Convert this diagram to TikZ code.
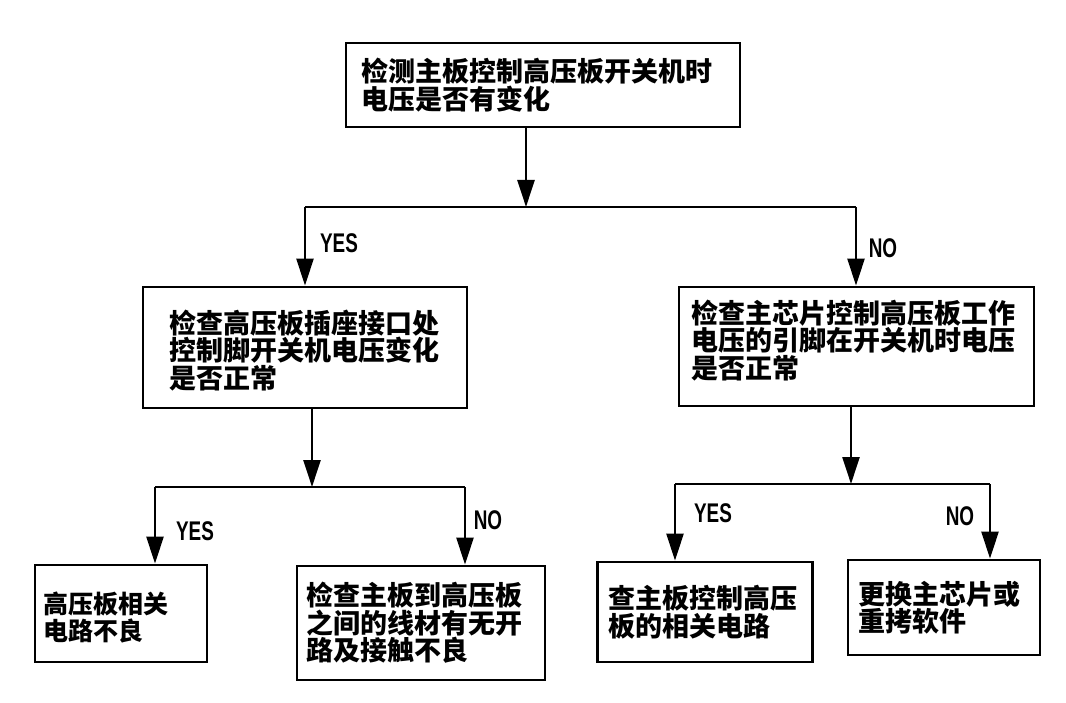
\documentclass[tikz,border=0pt]{standalone}
\usepackage{fontspec}
\newfontfamily\cjk{Noto Sans CJK SC}
\newfontfamily\lab{Liberation Sans}[FakeStretch=0.7]
\usetikzlibrary{arrows.meta}
\tikzset{
  box/.style={draw, line width=2.8pt, inner sep=0pt},
  txt/.style={font=\cjk\bfseries\fontsize{27}{27.5}\selectfont, align=left, inner sep=0pt, anchor=west},
  conn/.style={line width=2.4pt},
  arr/.style={conn, -{Triangle[length=27pt,width=17pt]}},
  yn/.style={font=\lab\bfseries\fontsize{27}{27}\selectfont, inner sep=0pt}
}
\begin{document}
\begin{tikzpicture}[x=1pt,y=-1pt]
\useasboundingbox[fill=white] (0,0) rectangle (1066,703);
% boxes
\node[box, minimum width=394pt, minimum height=84pt] (top) at (543,85) {};
\node[txt] (ttop) at ([xshift=17pt]top.west) {检测主板控制高压板开关机时\\电压是否有变化};
\node[box, minimum width=324pt, minimum height=121pt] (ml) at (305,347.5) {};
\node[txt] (tml) at ([xshift=28pt,yshift=-3pt]ml.west) {检查高压板插座接口处\\控制脚开关机电压变化\\是否正常};
\node[box, minimum width=355pt, minimum height=119pt] (mr) at (856.5,346.5) {};
\node[txt] (tmr) at ([xshift=14pt,yshift=6pt]mr.west) {检查主芯片控制高压板工作\\电压的引脚在开关机时电压\\是否正常};
\node[box, minimum width=172pt, minimum height=97pt] (b1) at (121,613.5) {};
\node[txt, font=\cjk\bfseries\fontsize{25}{27}\selectfont] (tb1) at ([xshift=10pt,yshift=-4pt]b1.west) {高压板相关\\电路不良};
\node[box, minimum width=248pt, minimum height=114pt] (b2) at (421,623) {};
\node[txt] (tb2) at ([xshift=11pt]b2.west) {检查主板到高压板\\之间的线材有无开\\路及接触不良};
\node[box, minimum width=215pt, minimum height=100pt] (b3) at (705,612) {};
\node[txt] (tb3) at ([xshift=12pt]b3.west) {查主板控制高压\\板的相关电路};
\node[box, minimum width=192pt, minimum height=95pt] (b4) at (944,607.5) {};
\node[txt] (tb4) at ([xshift=12pt]b4.west) {更换主芯片或\\重拷软件};
% junctions
\coordinate (j1) at (526,207);
\coordinate (j1l) at (305,207);
\coordinate (j1r) at (856,207);
\coordinate (j2) at (312,487);
\coordinate (j2l) at (155,487);
\coordinate (j2r) at (465,487);
\coordinate (j3) at (851,484);
\coordinate (j3l) at (675,484);
\coordinate (j3r) at (990,484);
% connectors
\draw[arr] (top.south -| j1) -- (j1);
\draw[conn] (j1l) -- (j1r);
\draw[arr] (j1l) -- (j1l |- ml.north);
\draw[arr] (j1r) -- (j1r |- mr.north);
\draw[arr] (ml.south -| j2) -- (j2);
\draw[conn] (j2l) -- (j2r);
\draw[arr] (j2l) -- (j2l |- b1.north);
\draw[arr] (j2r) -- (j2r |- b2.north);
\draw[arr] (mr.south -| j3) -- (j3);
\draw[conn] (j3l) -- (j3r);
\draw[arr] (j3l) -- (j3l |- b3.north);
\draw[arr] (j3r) -- (j3r |- b4.north);
% labels
\node[yn] (y1) at (339,243) {YES};
\node[yn] (n1) at (883,248) {NO};
\node[yn] (y2) at (195,531) {YES};
\node[yn] (n2) at (488,520) {NO};
\node[yn] (y3) at (713,513) {YES};
\node[yn] (n3) at (960,516) {NO};
\end{tikzpicture}
\end{document}
